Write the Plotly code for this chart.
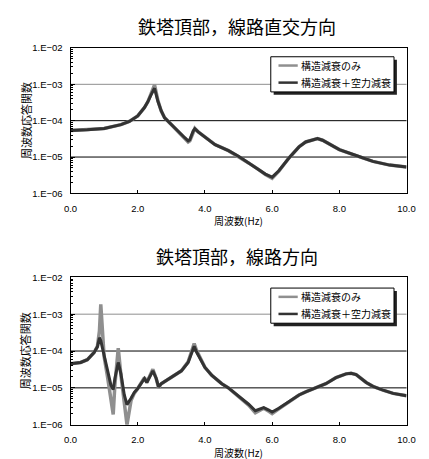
import plotly.graph_objects as go

# ---- frequency response of the tower top ----
# (a) cross-line direction
freq_a = [0.0, 0.5, 1.0, 1.5, 1.75, 2.0, 2.2, 2.3, 2.4, 2.5, 2.6, 2.7, 2.8, 3.0,
          3.2, 3.4, 3.5, 3.55, 3.65, 3.7, 3.8, 4.0, 4.3, 4.7, 5.0, 5.3, 5.6,
          5.8, 6.0, 6.2, 6.5, 6.8, 7.0, 7.2, 7.35, 7.5, 7.8, 8.0, 8.5, 9.0,
          9.5, 10.0]
resp_a_struct = [5.4e-5, 5.6e-5, 6.1e-5, 7.8e-5, 9.5e-5, 1.35e-4, 2.3e-4, 3.3e-4,
                 5.6e-4, 9.6e-4, 3.6e-4, 1.85e-4, 1.2e-4, 7.7e-5, 5.0e-5, 3.3e-5,
                 2.6e-5, 2.8e-5, 5.2e-5, 6.1e-5, 4.9e-5, 3.5e-5, 2.2e-5, 1.5e-5,
                 1.05e-5, 6.9e-6, 4.5e-6, 3.3e-6, 2.6e-6, 4.1e-6, 9.4e-6, 1.9e-5,
                 2.6e-5, 3.0e-5, 3.2e-5, 2.9e-5, 2.0e-5, 1.6e-5, 1.1e-5, 7.6e-6,
                 6.0e-6, 5.3e-6]
resp_a_aero = [5.4e-5, 5.6e-5, 6.1e-5, 7.8e-5, 9.5e-5, 1.35e-4, 2.3e-4, 3.3e-4,
               5.2e-4, 7.8e-4, 3.4e-4, 1.85e-4, 1.2e-4, 7.7e-5, 5.0e-5, 3.4e-5,
               2.8e-5, 3.0e-5, 5.2e-5, 6.0e-5, 4.9e-5, 3.5e-5, 2.2e-5, 1.5e-5,
               1.05e-5, 6.9e-6, 4.6e-6, 3.4e-6, 2.8e-6, 4.2e-6, 9.4e-6, 1.9e-5,
               2.6e-5, 3.0e-5, 3.2e-5, 2.9e-5, 2.0e-5, 1.6e-5, 1.1e-5, 7.6e-6,
               6.0e-6, 5.3e-6]

# (b) line direction
freq_b = [0.0, 0.3, 0.5, 0.7, 0.8, 0.86, 0.9, 0.95, 1.0, 1.1, 1.2, 1.27, 1.32,
          1.42, 1.5, 1.6, 1.68, 1.8, 1.9, 2.0, 2.1, 2.2, 2.27, 2.4, 2.45, 2.55,
          2.62, 2.7, 3.0, 3.3, 3.5, 3.6, 3.68, 3.75, 3.9, 4.0, 4.2, 4.5, 4.7,
          5.0, 5.3, 5.5, 5.6, 5.75, 5.9, 6.0, 6.2, 6.5, 6.8, 7.0, 7.3, 7.6, 7.9,
          8.2, 8.35, 8.5, 8.8, 9.0, 9.3, 9.6, 10.0]
resp_b_struct = [4.5e-5, 4.9e-5, 5.8e-5, 9.1e-5, 1.35e-4, 3.5e-4, 1.85e-3, 3.0e-4,
                 7.0e-5, 2.0e-5, 5.0e-6, 1.9e-6, 1.2e-5, 1.2e-4, 2.2e-5, 4.0e-6,
                 1.0e-6, 4.5e-6, 7.2e-6, 9.6e-6, 1.3e-5, 1.9e-5, 1.4e-5, 2.5e-5,
                 3.2e-5, 1.8e-5, 1.0e-5, 1.3e-5, 1.9e-5, 2.9e-5, 5.1e-5, 1.0e-4,
                 1.6e-4, 1.05e-4, 5.2e-5, 3.6e-5, 2.2e-5, 1.3e-5, 1.0e-5, 6.0e-6,
                 3.4e-6, 2.1e-6, 2.4e-6, 2.8e-6, 2.3e-6, 2.0e-6, 2.7e-6, 4.1e-6,
                 6.4e-6, 7.8e-6, 1.0e-5, 1.3e-5, 1.9e-5, 2.4e-5, 2.5e-5, 2.3e-5,
                 1.4e-5, 1.1e-5, 8.7e-6, 7.1e-6, 6.1e-6]
resp_b_aero = [4.5e-5, 4.9e-5, 5.8e-5, 9.1e-5, 1.3e-4, 2.3e-4, 1.9e-4, 1.2e-4,
               7.4e-5, 2.6e-5, 1.2e-5, 9.0e-6, 1.8e-5, 4.9e-5, 2.4e-5, 6.4e-6,
               3.5e-6, 5.2e-6, 7.6e-6, 9.6e-6, 1.3e-5, 1.8e-5, 1.4e-5, 2.4e-5,
               2.9e-5, 1.8e-5, 1.07e-5, 1.3e-5, 1.9e-5, 2.9e-5, 4.9e-5, 9.1e-5,
               1.35e-4, 9.4e-5, 5.1e-5, 3.6e-5, 2.2e-5, 1.3e-5, 1.0e-5, 6.1e-6,
               3.6e-6, 2.4e-6, 2.6e-6, 2.9e-6, 2.5e-6, 2.2e-6, 2.8e-6, 4.2e-6,
               6.4e-6, 7.8e-6, 1.0e-5, 1.3e-5, 1.9e-5, 2.4e-5, 2.5e-5, 2.3e-5,
               1.4e-5, 1.1e-5, 8.7e-6, 7.1e-6, 6.1e-6]

series_names = ["構造減衰のみ", "構造減衰＋空力減衰"]
panel_titles = ["鉄塔頂部，線路直交方向", "鉄塔頂部，線路方向"]
x_title = "周波数(Hz)"
y_title = "周波数応答関数"
x_ticks = [0, 2, 4, 6, 8, 10]
x_ticktext = ["0.0", "2.0", "4.0", "6.0", "8.0", "10.0"]
y_ticks = [1e-6, 1e-5, 1e-4, 1e-3, 1e-2]
y_ticktext = ["1.E−06", "1.E−05", "1.E−04", "1.E−03", "1.E−02"]

W, H = 429, 459
GREY = "#8f8f8f"
DARK = "#333333"
SERIES_COLORS = [GREY, DARK]
SERIES_WIDTHS = [3.5, 3]
TICK_FONT = dict(family="Liberation Sans, Arial, sans-serif", size=9.5, color="black")
JP = "Noto Sans CJK JP, sans-serif"

# plot-area placement in pixels: (left, right, top, bottom)
panels = [(66, 415, 43, 192), (66, 415, 278, 429)]
# legend box placement in pixels: (left, top)
legend_px = [(274, 52), (274, 289)]
LEG_W, LEG_H = 128, 36


def px_x(p):
    return p / W


def px_y(p):
    return 1 - p / H


fig = go.Figure()
data = [(freq_a, resp_a_struct, resp_a_aero), (freq_b, resp_b_struct, resp_b_aero)]
for i, (f, s, a) in enumerate(data):
    sx = "" if i == 0 else "2"
    for name, vals, col, wd in zip(series_names, (s, a), SERIES_COLORS, SERIES_WIDTHS):
        fig.add_trace(go.Scatter(x=f, y=vals, mode="lines", name=name,
                                 line=dict(color=col, width=wd),
                                 xaxis="x" + sx, yaxis="y" + sx, showlegend=False))

layout = dict(width=W, height=H, margin=dict(l=0, r=0, t=0, b=0),
              paper_bgcolor="white", plot_bgcolor="white", showlegend=False)
shapes, annotations = [], []
for i, (l, r, t, b) in enumerate(panels):
    sx = "" if i == 0 else "2"
    layout["xaxis" + sx] = dict(
        domain=[px_x(l), px_x(r)], range=[0, 10], anchor="y" + sx,
        tickvals=x_ticks, ticktext=x_ticktext, ticks="inside", ticklen=3,
        tickcolor="black", showline=True, linecolor="black", linewidth=1,
        mirror=True, showgrid=False, zeroline=False, tickfont=TICK_FONT,
        ticklabelstandoff=6)
    layout["yaxis" + sx] = dict(
        domain=[px_y(b), px_y(t)], type="log", range=[-6, -2], anchor="x" + sx,
        tickvals=y_ticks, ticktext=y_ticktext, ticks="inside", ticklen=4,
        tickcolor="black", showline=True, linecolor="black", linewidth=1,
        mirror=True, showgrid=False, zeroline=False, tickfont=TICK_FONT,
        ticklabelstandoff=5,
        minor=dict(ticks="inside", ticklen=2, tickcolor="black", dtick="D1"))
    # horizontal gridlines at 1e-5, 1e-4 (black) and 1e-3 (grey)
    for frac, col in [(0.25, "black"), (0.5, "black"), (0.75, GREY)]:
        shapes.append(dict(type="line", xref="x%s domain" % sx, yref="y%s domain" % sx,
                           x0=0, x1=1, y0=frac, y1=frac, layer="below",
                           line=dict(color=col, width=1)))
    # panel title and axis titles
    annotations.append(dict(text=panel_titles[i], xref="paper", yref="paper",
                            x=px_x((l + r) / 2 - 2), y=px_y(t - 22), showarrow=False,
                            font=dict(family=JP, size=18, color="black"),
                            xanchor="center", yanchor="middle"))
    annotations.append(dict(text=x_title, xref="paper", yref="paper",
                            x=px_x((l + r) / 2), y=px_y(b + 28), showarrow=False,
                            font=dict(family=JP, size=10, color="black"),
                            xanchor="center", yanchor="middle"))
    annotations.append(dict(text=y_title, xref="paper", yref="paper",
                            x=px_x(19), y=px_y((t + b) / 2), showarrow=False,
                            textangle=-90,
                            font=dict(family=JP, size=11, color="black"),
                            xanchor="center", yanchor="middle"))
    # legend: drop shadow, framed box, line samples and labels
    lx, ly = legend_px[i]
    shapes.append(dict(type="rect", xref="paper", yref="paper",
                       x0=px_x(lx + 3), x1=px_x(lx + LEG_W + 3),
                       y0=px_y(ly + LEG_H + 3), y1=px_y(ly + 3),
                       fillcolor="#222222", line=dict(width=0), layer="above"))
    shapes.append(dict(type="rect", xref="paper", yref="paper",
                       x0=px_x(lx), x1=px_x(lx + LEG_W),
                       y0=px_y(ly + LEG_H), y1=px_y(ly),
                       fillcolor="white", line=dict(color="black", width=1),
                       layer="above"))
    for k, (name, col) in enumerate(zip(series_names, SERIES_COLORS)):
        yy = ly + 9 + 17.5 * k
        shapes.append(dict(type="line", xref="paper", yref="paper",
                           x0=px_x(lx + 8), x1=px_x(lx + 28),
                           y0=px_y(yy), y1=px_y(yy), layer="above",
                           line=dict(color=col, width=2.5)))
        annotations.append(dict(text=name, xref="paper", yref="paper",
                                x=px_x(lx + 29), y=px_y(yy), showarrow=False,
                                font=dict(family=JP, size=10, color="black"),
                                xanchor="left", yanchor="middle"))

layout["shapes"] = shapes
layout["annotations"] = annotations
fig.update_layout(**layout)
fig.write_html("out.html")
